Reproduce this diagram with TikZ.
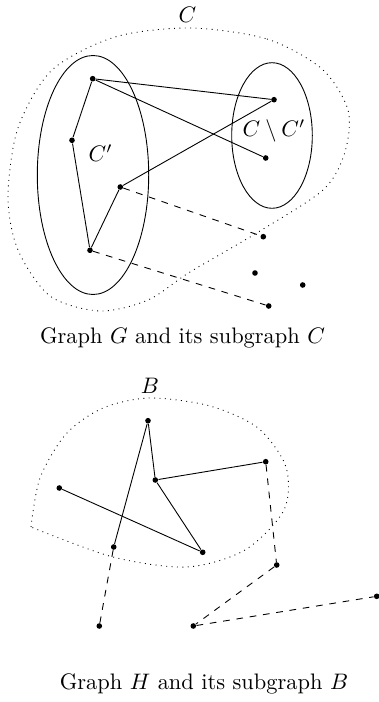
\documentclass[tikz,border=0pt]{standalone}
\usepackage{amsmath,amssymb}
\usepackage{tikz}
\usetikzlibrary{positioning}
\tikzstyle{vertex} = [circle, fill=black, inner sep=0pt, minimum size=2.5pt]
\tikzstyle{edge} = [draw=black]
\tikzstyle{link} = [draw=black, dashed]
\tikzstyle{region} = [draw=black, dotted]
\tikzstyle{part} = [draw=black]

\begin{document}
\begin{tikzpicture}[x=0.446pt, y=-0.446pt]
        \useasboundingbox (0,0) rectangle (379,702);

        \draw [region] plot[smooth cycle] coordinates {(190,28) (267,39) (322,69) (348,110) (345,152) (323,190) (255,234) (190,272) (148,300) (100,311) (50,296) (18,250) (8,197) (18,128) (52,70) (115,37)};
        \draw [part] (93,175) ellipse [x radius=55.7, y radius=119.5];
        \draw [part] (272,135.5) ellipse [x radius=40.3, y radius=72.8];

        \node (labC) at (187.5,15) {$C$};
        \node (labCp) at (100.7,153.3) {$C'$};
        \node (labCm) at (274,130.7) {$C \setminus C'$};

        \node (g1) [vertex] at (92.7,78.7) {};
        \node (g2) [vertex] at (72,140.3) {};
        \node (g3) [vertex] at (120.3,187) {};
        \node (g4) [vertex] at (90,250.3) {};
        \node (g5) [vertex] at (274,99.7) {};
        \node (g6) [vertex] at (265.7,158) {};
        \node (g7) [vertex] at (263.3,236.7) {};
        \node (g8) [vertex] at (255,273) {};
        \node (g9) [vertex] at (302.7,285) {};
        \node (g10) [vertex] at (268.7,306) {};

        \draw [edge] (g1) -- (g2);
        \draw [edge] (g2) -- (g4);
        \draw [edge] (g4) -- (g3);
        \draw [edge] (g3) -- (g5);
        \draw [edge] (g1) -- (g5);
        \draw [edge] (g1) -- (g6);
        \draw [link] (g3) -- (g7);
        \draw [link] (g4) -- (g10);

        \node (capG) at (182.5,338) {Graph $G$ and its subgraph $C$};

        \draw [region] plot[smooth] coordinates {(31,527) (40,478) (66,434) (103,408) (150,398) (210,406) (258,428) (286,467) (284,510) (245,550) (187,567) (113,557) (31,527)};

        \node (labB) at (150,385.5) {$B$};

        \node (h1) [vertex] at (148,420.7) {};
        \node (h2) [vertex] at (155.3,480) {};
        \node (h3) [vertex] at (265.7,461.7) {};
        \node (h4) [vertex] at (59.3,488) {};
        \node (h5) [vertex] at (202.7,552.3) {};
        \node (h6) [vertex] at (113.7,547) {};
        \node (h7) [vertex] at (276.7,565) {};
        \node (h8) [vertex] at (99.3,626) {};
        \node (h9) [vertex] at (193.3,626) {};
        \node (h10) [vertex] at (376.7,596.3) {};

        \draw [edge] (h1) -- (h2);
        \draw [edge] (h2) -- (h3);
        \draw [edge] (h2) -- (h5);
        \draw [edge] (h4) -- (h5);
        \draw [edge] (h1) -- (h6);
        \draw [link] (h3) -- (h7);
        \draw [link] (h7) -- (h9);
        \draw [link] (h9) -- (h10);
        \draw [link] (h6) -- (h8);

        \node (capH) at (204,684) {Graph $H$ and its subgraph $B$};
    \end{tikzpicture}
\end{document}
